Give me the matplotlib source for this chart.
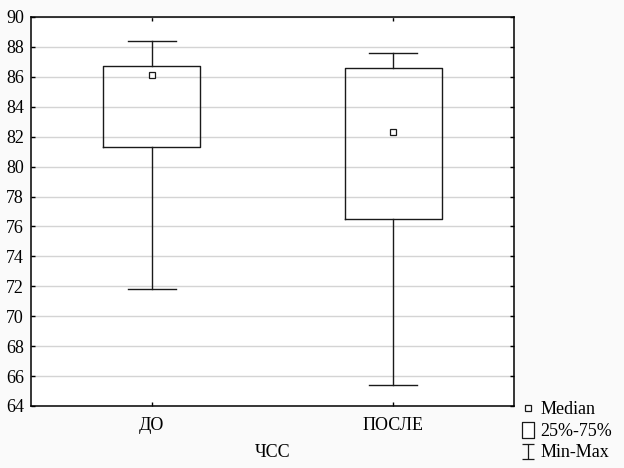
import matplotlib
matplotlib.use('Agg')
import matplotlib.pyplot as plt
from matplotlib.lines import Line2D
from matplotlib.path import Path

# Values (ЧСС, до и после)
groups = ['ДО', 'ПОСЛЕ']
medians = [86.15, 82.28]
q1 = [81.31, 76.48]
q3 = [86.72, 86.60]
mins = [71.8, 65.4]
maxs = [88.38, 87.58]
yticks = list(range(64, 91, 2))

plt.rcParams['font.family'] = ['Liberation Serif', 'DejaVu Serif']
plt.rcParams['font.size'] = 13

fig = plt.figure(figsize=(6.24, 4.68), dpi=100, facecolor='#fafafa')
ax = fig.add_axes([0.0497, 0.1325, 0.774, 0.8312])
ax.set_facecolor('white')

positions = [1, 2]
stats = []
for i, g in enumerate(groups):
    stats.append({'med': medians[i], 'q1': q1[i], 'q3': q3[i],
                  'whislo': mins[i], 'whishi': maxs[i], 'label': g})

line_kw = dict(color='#1a1a1a', linewidth=1.0)
ax.bxp(stats, positions=positions, widths=0.4, showfliers=False,
       boxprops=line_kw, whiskerprops=line_kw, capprops=line_kw,
       medianprops=dict(visible=False), capwidths=0.2, zorder=3)

# median shown as small open squares
ax.plot(positions, medians, linestyle='none', marker='s', markersize=4,
        markerfacecolor='white', markeredgecolor='#1a1a1a',
        markeredgewidth=0.9, zorder=4)

ax.set_xlim(0.5, 2.5)
ax.set_ylim(64, 90)
ax.set_yticks(yticks)
ax.set_xticks(positions)
ax.set_xticklabels(groups)
ax.yaxis.grid(True, color='#d4d4d4', linewidth=1.0, zorder=0)
ax.set_axisbelow(True)
ax.tick_params(axis='both', direction='in', length=3, width=1.0,
               top=True, right=True, colors='black')
ax.tick_params(axis='x', pad=8)
ax.tick_params(axis='y', pad=5)
for s in ax.spines.values():
    s.set_linewidth(1.1)
    s.set_color('black')
ax.set_xlabel('ЧСС', labelpad=7)

# legend glyphs
sq_path = Path([(-0.34, -0.5), (0.34, -0.5), (0.34, 0.5), (-0.34, 0.5), (-0.34, -0.5)],
               [Path.MOVETO, Path.LINETO, Path.LINETO, Path.LINETO, Path.CLOSEPOLY])
ibeam = Path([(-0.4, 0.5), (0.4, 0.5), (0, 0.5), (0, -0.5), (-0.4, -0.5), (0.4, -0.5)],
             [Path.MOVETO, Path.LINETO, Path.MOVETO, Path.LINETO,
              Path.MOVETO, Path.LINETO])
handles = [
    Line2D([], [], linestyle='none', marker='s', markersize=4,
           markerfacecolor='white', markeredgecolor='#1a1a1a', markeredgewidth=0.9),
    Line2D([], [], linestyle='none', marker=sq_path, markersize=12.2,
           markerfacecolor='white', markeredgecolor='#1a1a1a', markeredgewidth=0.9),
    Line2D([], [], linestyle='none', marker=ibeam, markersize=10.8,
           markerfacecolor='none', markeredgecolor='#1a1a1a', markeredgewidth=0.9),
]
fig.legend(handles, ['Median', '25%-75%', 'Min-Max'], loc='lower left',
           bbox_to_anchor=(0.815, -0.009), frameon=False, handlelength=0.9,
           handletextpad=0.25, labelspacing=0.25, borderpad=0.1,
           fontsize=13)

fig.savefig('out.png', dpi=100, facecolor=fig.get_facecolor())
